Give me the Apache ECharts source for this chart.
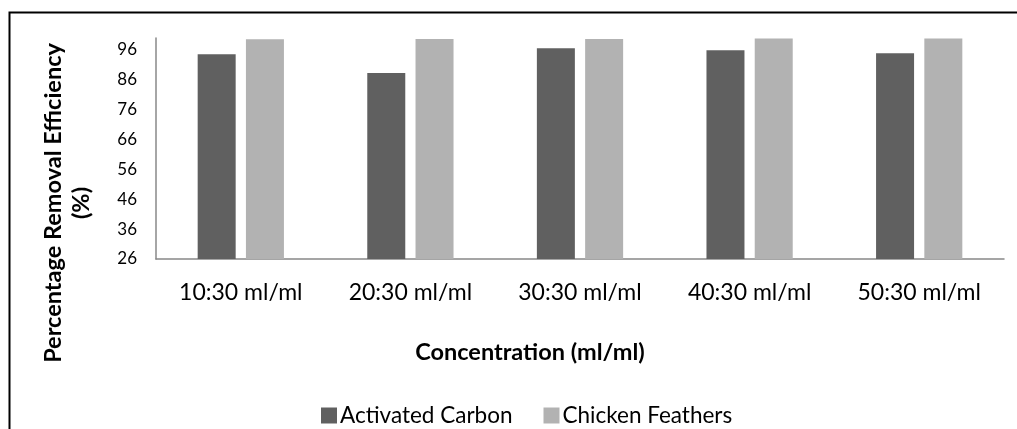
<!DOCTYPE html>
<html>
<head>
<meta charset="utf-8">
<script src="https://cdn.jsdelivr.net/npm/echarts@6/dist/echarts.min.js"></script>
<style>
html,body{margin:0;padding:0;background:#fff;}
#c{width:1017px;height:429px;}
</style>
</head>
<body>
<div id="c"></div>
<script>
const categories = ['10:30 ml/ml', '20:30 ml/ml', '30:30 ml/ml', '40:30 ml/ml', '50:30 ml/ml'];
const activatedCarbon = [94.6, 88.3, 96.6, 95.9, 94.9];
const chickenFeathers = [99.6, 99.7, 99.7, 99.8, 99.8];
const seriesNames = ['Activated Carbon', 'Chicken Feathers'];
const yTitle = ['Percentage Removal Efficiency', '(%)'];
const xTitle = 'Concentration (ml/ml)';

const FONT = 'Lato';
const chart = echarts.init(document.getElementById('c'));
chart.setOption({
  backgroundColor: '#fff',
  animation: false,
  grid: { left: 156, right: 13, top: 38, bottom: 170, containLabel: false },
  legend: {
    data: seriesNames,
    left: 316, top: 399,
    itemWidth: 16, itemHeight: 16, itemGap: 31,
    icon: 'rect',
    textStyle: { fontFamily: FONT, fontSize: 22.5, color: '#000', padding: [0,0,0,-2] }
  },
  xAxis: {
    type: 'category',
    data: categories,
    axisLine: { lineStyle: { color: '#888', width: 1.5 } },
    axisTick: { show: false },
    axisLabel: { fontFamily: FONT, fontSize: 23, color: '#000', margin: 22 }
  },
  yAxis: {
    type: 'value',
    min: 26, max: 100, interval: 10,
    splitLine: { show: false },
    axisLine: { show: true, lineStyle: { color: '#888', width: 1.5 } },
    axisTick: { show: false },
    axisLabel: { fontFamily: FONT, fontSize: 17, color: '#000', margin: 19, showMaxLabel: false }
  },
  series: [
    { name: seriesNames[0], type: 'bar', data: activatedCarbon, barWidth: 38, barGap: '27%',
      itemStyle: { color: '#606060' } },
    { name: seriesNames[1], type: 'bar', data: chickenFeathers, barWidth: 38,
      itemStyle: { color: '#b2b2b2' } }
  ],
  graphic: [
    { type: 'rect', left: 7, top: 10, shape: { width: 1030, height: 440 },
      style: { fill: 'none', stroke: '#000', lineWidth: 2 }, silent: true },
    { type: 'text', x: 53, y: 203, rotation: Math.PI / 2,
      style: { text: yTitle[0], font: 'bold 23.5px ' + FONT, fill: '#000', align: 'center', verticalAlign: 'middle' } },
    { type: 'text', x: 81, y: 203, rotation: Math.PI / 2,
      style: { text: yTitle[1], font: 'bold 23.5px ' + FONT, fill: '#000', align: 'center', verticalAlign: 'middle' } },
    { type: 'text', x: 530, y: 352,
      style: { text: xTitle, font: 'bold 23.5px ' + FONT, fill: '#000', align: 'center', verticalAlign: 'middle' } }
  ]
});
</script>
</body>
</html>
